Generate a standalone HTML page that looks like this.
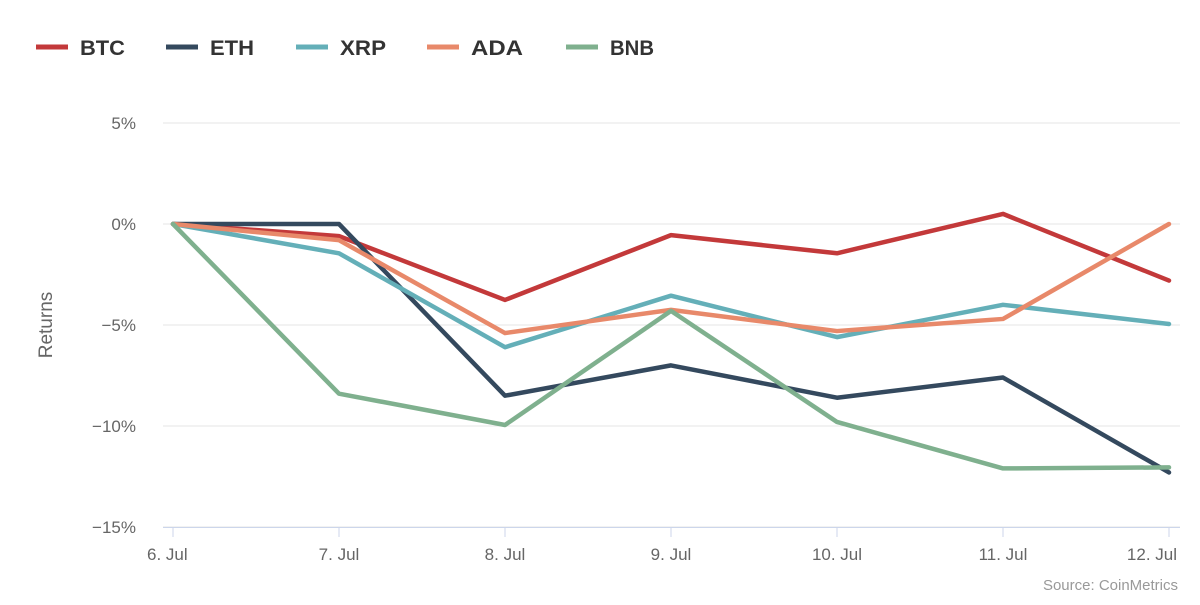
<!DOCTYPE html>
<html><head><meta charset="utf-8"><style>
body{margin:0;background:#fff;font-family:"Liberation Sans",sans-serif;}
svg text{font-family:"Liberation Sans",sans-serif;}
</style></head><body>
<svg id="chart" width="1200" height="600"></svg>
<script>
const categories=["6. Jul","7. Jul","8. Jul","9. Jul","10. Jul","11. Jul","12. Jul"];
const seriesNames=["BTC","ETH","XRP","ADA","BNB"];
const btc=[0,-0.6,-3.76,-0.55,-1.45,0.5,-2.8];
const eth=[0,0,-8.5,-7.0,-8.6,-7.6,-12.3];
const xrp=[0,-1.45,-6.1,-3.55,-5.6,-4.0,-4.95];
const ada=[0,-0.8,-5.4,-4.25,-5.3,-4.7,0];
const bnb=[0,-8.4,-9.95,-4.3,-9.8,-12.1,-12.05];
const yTicks=[5,0,-5,-10,-15];
const yTickLabels=["5%","0%","−5%","−10%","−15%"];
const colors=["#c3393a","#34495e","#64afb8","#e8896a","#7fb08e"];
const seriesData=[btc,eth,xrp,ada,bnb];

const NS="http://www.w3.org/2000/svg";
const svg=document.getElementById("chart");
function el(tag,attrs,parent){const e=document.createElementNS(NS,tag);for(const k in attrs)e.setAttribute(k,attrs[k]);(parent||svg).appendChild(e);return e;}
const x=i=>173+i*166;
const y=v=>224-v*20.2;

yTicks.forEach((t,i)=>{
  const g=el("line",{x1:163,x2:1180,y1:y(t),y2:y(t),stroke:"#e6e6e6","stroke-width":1});
  
  
  const tx=el("text",{x:136,y:y(t)+6,"text-anchor":"end","font-size":17,fill:"#666"});
  tx.textContent=yTickLabels[i];
  
  
});
const ax=el("line",{x1:163,x2:1180,y1:527.5,y2:527.5,stroke:"#ccd6eb","stroke-width":1});


categories.forEach((c,i)=>{
  const tk=el("line",{x1:x(i),x2:x(i),y1:527,y2:537,stroke:"#ccd6eb","stroke-width":1});
  
  
  const anchor=i===0?"start":(i===categories.length-1?"end":"middle");
  const xx=i===0?x(i)-26:(i===categories.length-1?x(i)+8:x(i));
  const t=el("text",{x:xx,y:560,"text-anchor":anchor,"font-size":17,fill:"#666"});
  t.textContent=c;
  
  
});
const yt=el("text",{x:52,y:325,"text-anchor":"middle","font-size":19,fill:"#666",transform:"rotate(-90 52 325)"});
yt.textContent="Returns";



seriesData.forEach((d,s)=>{
  const p=el("polyline",{points:d.map((v,i)=>x(i)+","+y(v)).join(" "),fill:"none",stroke:colors[s],"stroke-width":4.5,"stroke-linejoin":"round","stroke-linecap":"round"});
  
  
});

const legendX=[36,166,296,427,566];
const legendW=[45,44,46,52,44];
seriesNames.forEach((n,s)=>{
  const g=el("g",{});
  
  
  el("line",{x1:legendX[s],x2:legendX[s]+32,y1:47,y2:47,stroke:colors[s],"stroke-width":5},g);
  const t=el("text",{x:legendX[s]+44,y:55,"font-size":21,"font-weight":"bold",fill:"#333",textLength:legendW[s],lengthAdjust:"spacingAndGlyphs"},g);
  t.textContent=n;
});
const src=el("text",{x:1178,y:590,"text-anchor":"end","font-size":15,fill:"#999"});
src.textContent="Source: CoinMetrics";


</script>
</body></html>
